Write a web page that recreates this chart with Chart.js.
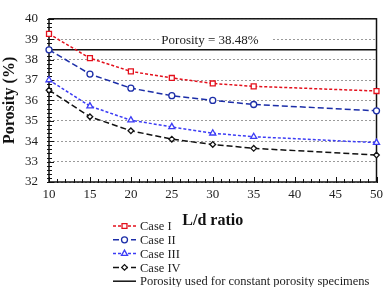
<!DOCTYPE html>
<html>
<head>
<meta charset="utf-8">
<script src="https://cdn.jsdelivr.net/npm/chart.js@4"></script>
<style>
  html, body { margin: 0; padding: 0; background: #fff; }
  #porosityChart { display: block; }
</style>
</head>
<body>
<canvas id="porosityChart" width="388" height="287"></canvas>
<script>
// data
const ldRatio = [10, 15, 20, 25, 30, 35, 50];
const caseI = [39.26, 38.07, 37.42, 37.10, 36.83, 36.69, 36.46];
const caseII = [38.48, 37.29, 36.60, 36.23, 36.00, 35.80, 35.49];
const caseIII = [37.00, 35.72, 35.03, 34.70, 34.39, 34.22, 33.93];
const caseIV = [36.50, 35.20, 34.51, 34.10, 33.84, 33.65, 33.32];
const constPorosity = 38.48;
const yTicks = [32, 33, 34, 35, 36, 37, 38, 39, 40];
const xTicks = [10, 15, 20, 25, 30, 35, 40, 45, 50];

const serif = '"Liberation Serif", "Times New Roman", serif';
const pts = arr => arr.map((v, i) => ({ x: ldRatio[i], y: v }));

// frame, inner ticks, porosity note and the legend
const extras = {
    id: 'extras',
    beforeDatasetsDraw(chart) {
        const { ctx, chartArea: a, scales: { x, y } } = chart;
        const yy = y.getPixelForValue(39);
        ctx.save();
        ctx.fillStyle = '#fff';
        ctx.fillRect(160, yy - 3, 112, 6);
        ctx.fillStyle = '#222';
        ctx.font = '13px ' + serif;
        ctx.textAlign = 'center';
        ctx.textBaseline = 'middle';
        ctx.fillText('Porosity = ' + constPorosity + '%', 210, yy + 1);

        ctx.strokeStyle = '#111';
        ctx.lineWidth = 1;
        ctx.beginPath();
        for (let v = 10; v <= 50; v++) {
            const px = Math.round(x.getPixelForValue(v)) + 0.5;
            const len = v % 5 === 0 ? 5 : 3;
            ctx.moveTo(px, a.bottom + 1);
            ctx.lineTo(px, a.bottom - len);
        }
        for (let k = 0; k <= 40; k++) {
            const v = 32 + k * 0.2;
            const py = Math.round(y.getPixelForValue(v)) + 0.5;
            const len = k % 5 === 0 ? 5 : 3;
            ctx.moveTo(a.left - 2, py);
            ctx.lineTo(a.left + len, py);
        }
        ctx.stroke();
        ctx.lineWidth = 1.5;
        ctx.strokeRect(a.left, a.top, a.right - a.left, a.bottom - a.top);
        ctx.restore();
    },
    afterDraw(chart) {
        const ctx = chart.ctx;
        ctx.save();
        const lx0 = 113, lx1 = 136, ly0 = 226, step = 13.8;
        chart.data.datasets.forEach((ds, i) => {
            const ly = ly0 + i * step;
            ctx.setLineDash(ds.borderDash || []);
            ctx.strokeStyle = ds.borderColor;
            ctx.lineWidth = ds.borderWidth;
            ctx.beginPath();
            ctx.moveTo(lx0, ly);
            ctx.lineTo(lx1, ly);
            ctx.stroke();
            ctx.setLineDash([]);
            if (ds.pointRadius > 0) {
                ctx.fillStyle = ds.pointBackgroundColor;
                ctx.strokeStyle = ds.borderColor;
                ctx.lineWidth = ds.pointBorderWidth;
                Chart.helpers.drawPoint(ctx, {
                    pointStyle: ds.pointStyle,
                    radius: ds.pointRadius,
                    borderWidth: ds.pointBorderWidth,
                    rotation: 0
                }, (lx0 + lx1) / 2, ly);
            }
            ctx.fillStyle = '#222';
            ctx.font = '12.5px ' + serif;
            ctx.textAlign = 'left';
            ctx.textBaseline = 'middle';
            ctx.fillText(ds.label, 140, ly + 1);
        });
        ctx.restore();
    }
};

function caseSet(label, data, color, dash, style, r) {
    return {
        label: label,
        data: pts(data),
        borderColor: color,
        borderWidth: 1.5,
        borderDash: dash,
        pointStyle: style,
        pointRadius: r,
        pointBorderWidth: 1.3,
        pointBackgroundColor: '#fff',
        tension: 0,
        clip: false
    };
}

new Chart(document.getElementById('porosityChart').getContext('2d'), {
    type: 'line',
    data: {
        datasets: [
            caseSet('Case I', caseI, '#e3101c', [3, 2], 'rect', 3.5),
            caseSet('Case II', caseII, '#1c2ea8', [6, 3], 'circle', 3),
            caseSet('Case III', caseIII, '#3c3cf5', [3, 2], 'triangle', 3.5),
            caseSet('Case IV', caseIV, '#111', [6, 3], 'rectRot', 2.8),
            {
                label: 'Porosity used for constant porosity specimens',
                data: [{ x: 10, y: constPorosity }, { x: 50, y: constPorosity }],
                borderColor: '#111',
                borderWidth: 1.5,
                pointRadius: 0,
                tension: 0
            }
        ]
    },
    options: {
        responsive: false,
        animation: false,
        layout: { padding: { left: 0, top: 8, right: 9, bottom: 57 } },
        plugins: { legend: { display: false }, tooltip: { enabled: false } },
        scales: {
            x: {
                type: 'linear',
                min: 10,
                max: 50,
                afterFit: s => { s.height = 48; },
                afterBuildTicks: s => { s.ticks = xTicks.map(v => ({ value: v })); },
                grid: { display: false, drawTicks: false },
                border: { display: false },
                ticks: { padding: 5, color: '#222', font: { family: serif, size: 13 }, maxRotation: 0 },
                title: {
                    display: true,
                    text: 'L/d ratio',
                    color: '#111',
                    padding: { top: 0, bottom: 0 },
                    font: { family: serif, size: 16, weight: 'bold' }
                }
            },
            y: {
                min: 32,
                max: 40,
                afterFit: s => { s.width = 49; },
                afterBuildTicks: s => { s.ticks = yTicks.map(v => ({ value: v })); },
                grid: { color: '#9a9a9a', lineWidth: 1, drawTicks: false },
                border: { display: false, dash: [2, 2] },
                ticks: { padding: 11, color: '#222', font: { family: serif, size: 13 } },
                title: {
                    display: true,
                    text: 'Porosity (%)',
                    color: '#111',
                    padding: { top: 0, bottom: 0 },
                    font: { family: serif, size: 16, weight: 'bold' }
                }
            }
        }
    },
    plugins: [extras]
});
</script>
</body>
</html>
